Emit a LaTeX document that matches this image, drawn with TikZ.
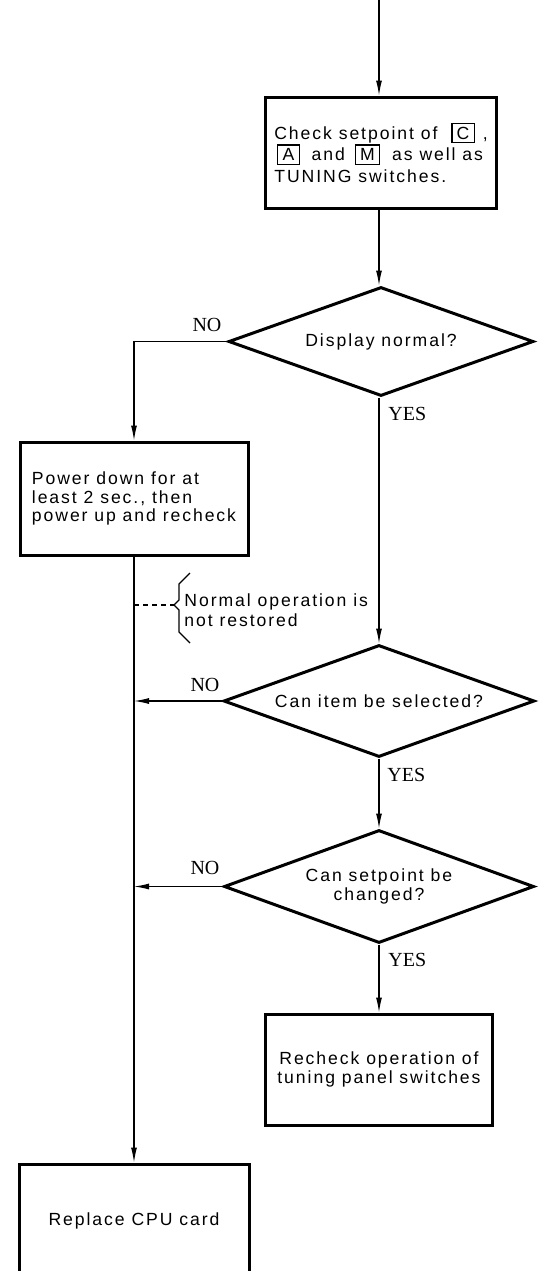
\documentclass[tikz,border=0pt]{standalone}
\usepackage{fontspec}
\setmainfont{Liberation Serif}
\newfontfamily\boxfont[LetterSpace=11]{Liberation Sans}
\usetikzlibrary{arrows.meta,shapes.geometric}
\newcommand{\keybox}[1]{{\setlength{\fboxsep}{1.5pt}\setlength{\fboxrule}{0.55pt}\fbox{\hspace{0.6pt}#1\hspace{0.6pt}}}}
\begin{document}
\begin{tikzpicture}[x=0.5pt,y=-0.5pt,
  proc/.style={draw,line width=1.5pt,inner sep=0pt,font=\boxfont\fontsize{8.8}{9.4}\selectfont},
  dec/.style={draw,diamond,aspect=2.8,line width=1.5pt,inner sep=0pt,align=center,font=\boxfont\fontsize{8.8}{9.8}\selectfont},
  flow/.style={line width=0.6pt,-{Latex[length=7.5pt,width=3pt]}},
  thin/.style={line width=0.6pt},
  lbl/.style={font=\fontsize{10}{12}\selectfont,inner sep=0pt},
  note/.style={font=\boxfont\fontsize{8.8}{10}\selectfont,inner sep=0pt,align=left}]
\useasboundingbox (0,0) rectangle (542,1271);
\clip (0,0) rectangle (542,1271);
\coordinate (start) at (379,0);
\node[proc,align=left,font=\boxfont\fontsize{8.8}{10.8}\selectfont,minimum width=115.5pt,minimum height=55.5pt] (b1) at (381,152.5)
  {Check setpoint of\hspace{7pt}\keybox{C}\hspace{4pt},\\\hspace{1.5pt}\keybox{A}\hspace{6pt}and\hspace{5pt}\keybox{M}\hspace{6pt}as well as\\TUNING switches.};
\node[dec,minimum width=152.5pt,minimum height=54.5pt] (d1) at (381,341.5) {Display normal?};
\node[proc,align=left,minimum width=114pt,minimum height=56.5pt] (b2) at (134,498.5)
  {Power down for at\\least 2 sec., then\\power up and recheck};
\node[dec,minimum width=155.5pt,minimum height=56pt] (d2) at (379,701) {Can item be selected?};
\node[dec,minimum width=155pt,minimum height=56.5pt] (d3) at (379,886.5) {Can setpoint be\\changed?};
\node[proc,align=center,minimum width=113.5pt,minimum height=55.5pt] (b3) at (379,1069.5)
  {Recheck operation of\\tuning panel switches};
\node[proc,minimum width=115pt,minimum height=57pt] (b4) at (134,1221) {Replace CPU card};
% labels
\node[lbl] (no1) at (207,325) {NO};
\node[lbl,anchor=west] (yes1) at (388,414) {YES};
\node[lbl] (no2) at (205,685) {NO};
\node[lbl,anchor=west] (yes2) at (387,775) {YES};
\node[lbl] (no3) at (205,868) {NO};
\node[lbl,anchor=west] (yes3) at (388,960) {YES};
% connectors
\draw[flow] (start) -- (start |- b1.north);
\draw[flow] (b1.south -| start) -- (start |- d1.north);
\draw[flow] (d1.south -| start) -- (d2);
\draw[flow] (d2) -- (d3);
\draw[flow] (d3) -- (b3);
\draw[flow] (d1.west) -| (b2);
\draw[flow] (b2) -- (b4);
\coordinate (j2) at (d2.west -| b2.south);
\coordinate (j3) at (d3.west -| b2.south);
\draw[flow] (d2) -- (j2);
\draw[flow] (d3) -- (j3);
% note
\coordinate (n0) at (134,605);
\coordinate (n1) at (174,605);
\draw[thin,dash pattern=on 2.5pt off 2pt] (n0) -- (n1);
\draw[thin] (190,573) -- (179,584) -- (179,600) -- (n1) -- (179,610) -- (179,632) -- (190,643);
\node[note,anchor=west] (nt) at (184,610) {Normal operation is\\not restored};
\end{tikzpicture}
\end{document}
